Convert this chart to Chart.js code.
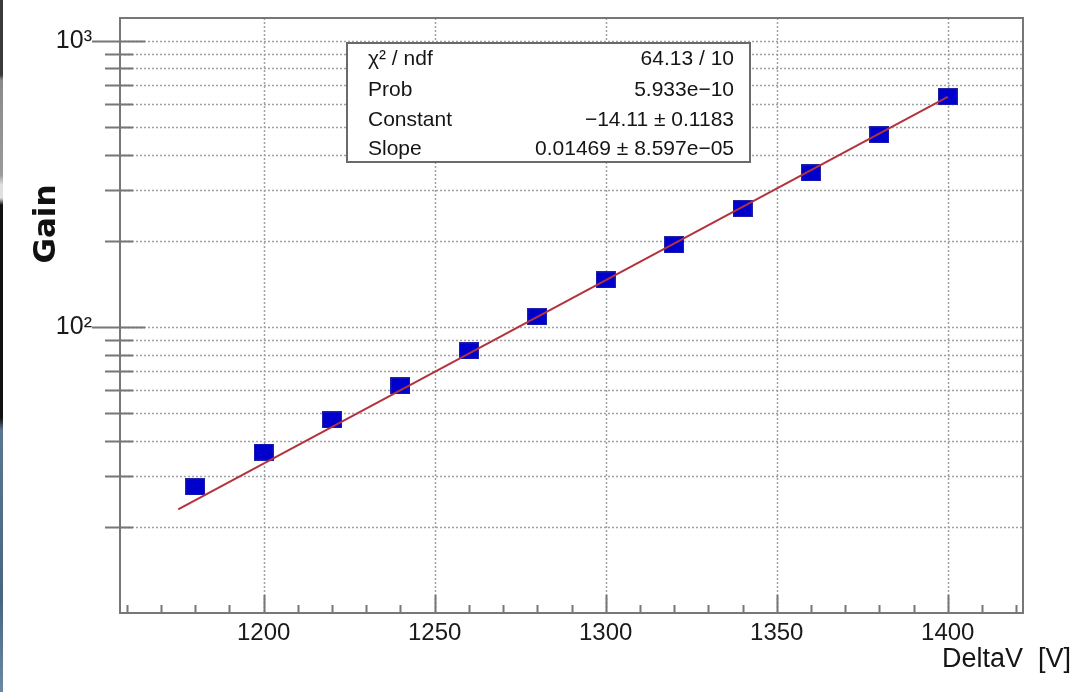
<!DOCTYPE html>
<html>
<head>
<meta charset="utf-8">
<script src="https://cdn.jsdelivr.net/npm/chart.js@4.4.1/dist/chart.umd.min.js"></script>
<style>
html,body{margin:0;padding:0;background:#fff;}
#wrap{position:relative;width:1076px;height:692px;overflow:hidden;}
#c{position:absolute;left:0;top:0;}
#strip{position:absolute;left:0;top:0;width:3px;height:692px;
background:linear-gradient(to bottom,#3a3a3a 0px,#3a3a3a 75px,#8a8a8a 80px,#9a9a9a 175px,#e0e0e0 185px,#e0e0e0 198px,#111 205px,#111 418px,#5d7690 430px,#4a6580 600px,#6d88a2 692px);}
</style>
</head>
<body>
<div id="wrap"><canvas id="c" width="1076" height="692"></canvas><div id="strip"></div></div>
<script>
// ---- data ----
const voltages = [1180, 1200, 1220, 1240, 1260, 1280, 1300, 1320, 1340, 1360, 1380, 1400];
const gains    = [27.6, 36.5, 47.3, 62.2, 82.4, 108.4, 145.9, 193.6, 259, 345, 469, 637];
const fitVoltages = [1175, 1400];
const fitGains    = [23.0, 636];
const xMajorTicks = [1200, 1250, 1300, 1350, 1400];
const xMinorTicks = [1160, 1170, 1180, 1190, 1210, 1220, 1230, 1240, 1260, 1270, 1280, 1290,
                     1310, 1320, 1330, 1340, 1360, 1370, 1380, 1390, 1410, 1420];
const yMajorTicks = [100, 1000];
const yMinorTicks = [20, 30, 40, 50, 60, 70, 80, 90, 200, 300, 400, 500, 600, 700, 800, 900];
const yTickLabels = {100: '10\u00B2', 1000: '10\u00B3'};
const statsLabels = ['\u03C7\u00B2 / ndf', 'Prob', 'Constant', 'Slope'];
const statsValues = ['64.13 / 10', '5.933e\u221210', '\u221214.11 \u00B1 0.1183', '0.01469 \u00B1 8.597e\u221205'];
const xTitle = 'DeltaV  [V]';
const yTitle = 'Gain';

// ---- marker ----
function makeSquare(){
  const c = document.createElement('canvas');
  c.width = 20; c.height = 17;
  const g = c.getContext('2d');
  g.fillStyle = '#0000cc';
  g.fillRect(0, 0, 20, 17);
  g.strokeStyle = '#2323a8';
  g.lineWidth = 1;
  g.strokeRect(0.5, 0.5, 19, 16);
  return c;
}
const square = makeSquare();

const FRAME = '#777777';

const rootPlugin = {
  id: 'rootStyle',
  beforeDatasetsDraw(chart){
    const {ctx, chartArea: a, scales: {x, y}} = chart;
    ctx.save();
    ctx.strokeStyle = '#a0a0a0';
    ctx.lineWidth = 1.5;
    ctx.setLineDash([2, 2]);
    for (const v of yMajorTicks.concat(yMinorTicks)) {
      const py = Math.round(y.getPixelForValue(v)) + 0.5;
      ctx.beginPath(); ctx.moveTo(a.left, py); ctx.lineTo(a.right, py); ctx.stroke();
    }
    for (const v of xMajorTicks) {
      const px = Math.round(x.getPixelForValue(v)) + 0.5;
      ctx.beginPath(); ctx.moveTo(px, a.top); ctx.lineTo(px, a.bottom); ctx.stroke();
    }
    ctx.restore();
  },
  afterDatasetsDraw(chart){
    const {ctx, chartArea: a, scales: {x, y}} = chart;
    ctx.save();
    ctx.strokeStyle = FRAME;
    ctx.lineWidth = 2;
    ctx.strokeRect(a.left, a.top, a.right - a.left, a.bottom - a.top);
    ctx.beginPath();
    for (const v of yMinorTicks) {
      const py = Math.round(y.getPixelForValue(v)) + 0.5;
      ctx.moveTo(a.left - 15, py); ctx.lineTo(a.left + 13, py);
    }
    for (const v of yMajorTicks) {
      const py = Math.round(y.getPixelForValue(v)) + 0.5;
      ctx.moveTo(a.left - 28, py); ctx.lineTo(a.left + 25, py);
    }
    for (const v of xMinorTicks) {
      const px = Math.round(x.getPixelForValue(v)) + 0.5;
      ctx.moveTo(px, a.bottom); ctx.lineTo(px, a.bottom - 8);
    }
    for (const v of xMajorTicks) {
      const px = Math.round(x.getPixelForValue(v)) + 0.5;
      ctx.moveTo(px, a.bottom); ctx.lineTo(px, a.bottom - 18);
    }
    ctx.stroke();
    ctx.restore();
  },
  afterDraw(chart){
    const ctx = chart.ctx;
    ctx.save();
    // stats box
    ctx.fillStyle = '#fff';
    ctx.fillRect(347, 43, 403, 119);
    ctx.strokeStyle = '#6a6a6a';
    ctx.lineWidth = 2;
    ctx.strokeRect(347, 43, 403, 119);
    ctx.fillStyle = '#151515';
    ctx.font = '21px "Liberation Sans", Arial, sans-serif';
    ctx.textBaseline = 'alphabetic';
    const rows = [65, 96, 126, 155];
    statsLabels.forEach((t, i) => { ctx.textAlign = 'left'; ctx.fillText(t, 368, rows[i]); });
    statsValues.forEach((t, i) => { ctx.textAlign = 'right'; ctx.fillText(t, 734, rows[i]); });
    // y title
    ctx.save();
    ctx.translate(47, 224);
    ctx.rotate(-Math.PI / 2);
    ctx.font = 'bold 31px "DejaVu Sans", sans-serif';
    ctx.textAlign = 'center';
    ctx.textBaseline = 'middle';
    ctx.fillStyle = '#111';
    ctx.fillText(yTitle, 0, 0);
    ctx.restore();
    // x title
    ctx.font = '27px "Liberation Sans", Arial, sans-serif';
    ctx.textAlign = 'right';
    ctx.textBaseline = 'alphabetic';
    ctx.fillStyle = '#151515';
    ctx.fillText(xTitle, 1071, 667);
    ctx.restore();
  }
};

new Chart(document.getElementById('c'), {
  type: 'scatter',
  data: {
    datasets: [
      {
        label: 'fit',
        data: fitVoltages.map((v, i) => ({x: v, y: fitGains[i]})),
        showLine: true,
        borderColor: '#b3323c',
        borderWidth: 2,
        pointRadius: 0,
        order: 0
      },
      {
        label: 'gain',
        data: voltages.map((v, i) => ({x: v, y: gains[i]})),
        showLine: false,
        pointStyle: square,
        pointRadius: 10,
        order: 1
      }
    ]
  },
  options: {
    responsive: false,
    animation: false,
    devicePixelRatio: 1,
    layout: {padding: {top: 18, right: 53, left: 0, bottom: 0}},
    plugins: {legend: {display: false}, tooltip: {enabled: false}},
    scales: {
      x: {
        type: 'linear',
        min: 1158, max: 1422,
        afterBuildTicks: s => { s.ticks = xMinorTicks.concat(xMajorTicks).sort((a, b) => a - b).map(v => ({value: v})); },
        afterFit: s => { s.height = 79; },
        grid: {display: false},
        border: {display: false},
        ticks: {
          autoSkip: false, maxRotation: 0,
          callback: v => xMajorTicks.includes(v) ? String(v) : '',
          font: {family: '"Liberation Sans", Arial, sans-serif', size: 24},
          color: '#1a1a1a',
          padding: -2
        }
      },
      y: {
        type: 'logarithmic',
        min: 10, max: 1200,
        afterBuildTicks: s => { s.ticks = yMinorTicks.concat(yMajorTicks).sort((a, b) => a - b).map(v => ({value: v})); },
        afterFit: s => { s.width = 120; },
        grid: {display: true, drawOnChartArea: false, drawTicks: true, tickLength: 28, color: 'rgba(0,0,0,0)'},
        border: {display: false},
        ticks: {
          autoSkip: false,
          callback: v => yTickLabels[v] || '',
          font: {family: '"Liberation Sans", Arial, sans-serif', size: 25},
          color: '#1a1a1a',
          padding: 0
        }
      }
    }
  },
  plugins: [rootPlugin]
});
</script>
</body>
</html>
